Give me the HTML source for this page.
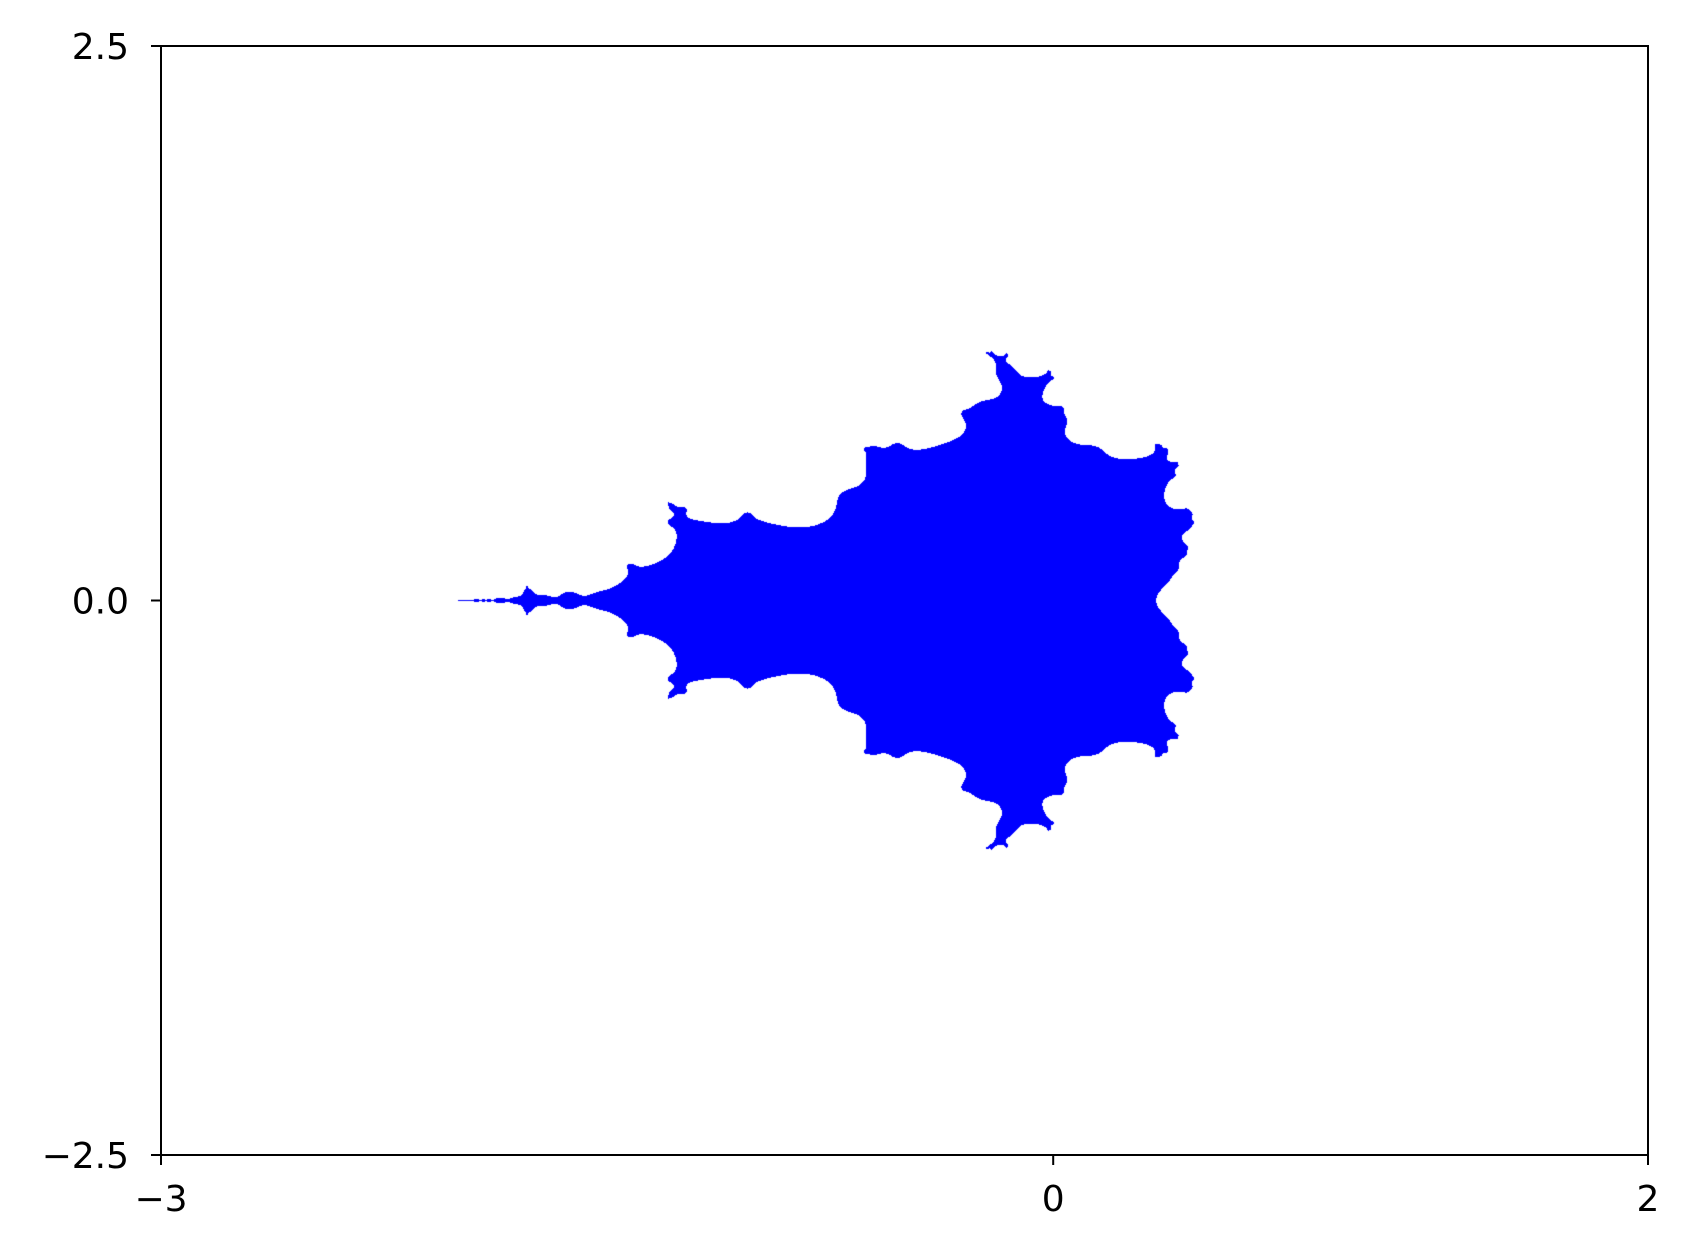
<!DOCTYPE html>
<html><head><meta charset="utf-8">
<style>
body{margin:0;background:#fff;width:1691px;height:1256px;overflow:hidden;font-family:"DejaVu Sans","Liberation Sans",sans-serif;}
#wrap{position:relative;width:1691px;height:1256px;}
canvas{position:absolute;left:0;top:0;}
</style></head>
<body>
<div id="wrap">
<canvas id="c" width="1691" height="1256"></canvas>
<svg id="ax" width="1691" height="1256" style="position:absolute;left:0;top:0"></svg>
</div>
<script>
const xDomain=[-3,2];
const yDomain=[-2.5,2.5];
const xTicks=[-3,0,2];
const xTickLabels=["\u22123","0","2"];
const yTicks=[-2.5,0,2.5];
const yTickLabels=["\u22122.5","0.0","2.5"];
const maxIter=[7];
const escapeRadius=[2];

const L=161,R=1648,T=46,B=1155;
const sx=v=>L+(v-xDomain[0])/(xDomain[1]-xDomain[0])*(R-L);
const sy=v=>B-(v-yDomain[0])/(yDomain[1]-yDomain[0])*(B-T);
const ix=p=>xDomain[0]+(p-L)/(R-L)*(xDomain[1]-xDomain[0]);
const iy=p=>yDomain[0]+(B-p)/(B-T)*(yDomain[1]-yDomain[0]);

const ctx=document.getElementById('c').getContext('2d');
const img=ctx.createImageData(R-L,B-T);
const r2=escapeRadius[0]*escapeRadius[0];
for(let py=T;py<B;py++){
  const ci=iy(py+0.5);
  for(let px=L;px<R;px++){
    const cr=ix(px+0.5);
    let zr=0,zi=0,ok=true;
    for(let n=0;n<maxIter[0]+1;n++){
      const t=zr*zr-zi*zi+cr; zi=2*zr*zi+ci; zr=t;
      if(zr*zr+zi*zi>r2){ok=false;break;}
    }
    const k=((py-T)*(R-L)+(px-L))*4;
    if(ok){img.data[k]=0;img.data[k+1]=0;img.data[k+2]=255;img.data[k+3]=255;}
  }
}
ctx.putImageData(img,L,T);

const svg=document.getElementById('ax');
const NS="http://www.w3.org/2000/svg";
const FF='"DejaVu Sans","Liberation Sans",sans-serif';
const frame=document.createElementNS(NS,'rect');
frame.setAttribute('x',L);frame.setAttribute('y',T);frame.setAttribute('width',R-L);frame.setAttribute('height',B-T);
frame.setAttribute('fill','none');frame.setAttribute('stroke','#000');frame.setAttribute('stroke-width','2');


svg.appendChild(frame);
xTicks.forEach((v,i)=>{
  const l=document.createElementNS(NS,'line');
  l.setAttribute('x1',sx(v));l.setAttribute('x2',sx(v));l.setAttribute('y1',B);l.setAttribute('y2',B+10);
  l.setAttribute('stroke','#000');l.setAttribute('stroke-width','2');
  
  
  svg.appendChild(l);
  const t=document.createElementNS(NS,'text');
  t.setAttribute('x',sx(v));t.setAttribute('y',B+56);t.setAttribute('text-anchor','middle');
  t.setAttribute('font-size','36');t.setAttribute('font-family',FF);
  t.textContent=xTickLabels[i];
  
  
  svg.appendChild(t);
});
yTicks.forEach((v,i)=>{
  const l=document.createElementNS(NS,'line');
  l.setAttribute('x1',L-10);l.setAttribute('x2',L);l.setAttribute('y1',sy(v));l.setAttribute('y2',sy(v));
  l.setAttribute('stroke','#000');l.setAttribute('stroke-width','2');
  
  
  svg.appendChild(l);
  const t=document.createElementNS(NS,'text');
  t.setAttribute('x',L-32);t.setAttribute('y',sy(v)+13);t.setAttribute('text-anchor','end');
  t.setAttribute('font-size','36');t.setAttribute('font-family',FF);
  t.textContent=yTickLabels[i];
  
  
  svg.appendChild(t);
});
</script>
</body></html>
